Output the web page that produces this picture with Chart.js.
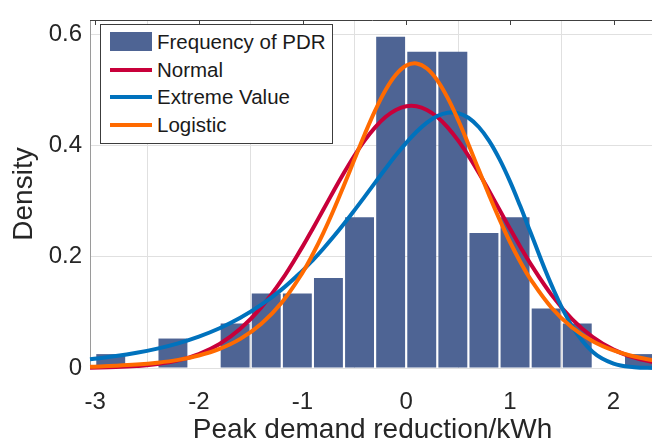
<!DOCTYPE html>
<html>
<head>
<meta charset="utf-8">
<script src="https://cdn.jsdelivr.net/npm/chart.js@4.4.1/dist/chart.umd.min.js"></script>
<style>
  html, body { margin: 0; padding: 0; background: #fff; overflow: hidden; }
  #wrap { position: relative; width: 652px; height: 445px; overflow: hidden; }
  #pdrChart { position: absolute; left: 0; top: 0; }
  #legend {
    position: absolute; left: 100px; top: 24px; width: 231px; height: 115px;
    border: 1px solid #3c3c3c; background: #fff; box-sizing: content-box;
    padding-top: 3px; font-family: "Liberation Sans", Arial, sans-serif;
    font-size: 20.5px; color: #1a1a1a;
  }
  .row { display: flex; align-items: center; height: 27.8px; padding-left: 9px; }
  .sw { width: 42px; margin-right: 5px; }
</style>
</head>
<body>
<div id="wrap">
  <canvas id="pdrChart" width="660" height="445"></canvas>
  <div id="legend"></div>
</div>
<script>
const ctx = document.getElementById('pdrChart');

// histogram: bin centres (width 0.3) and density
const binCenters = [-2.85, -2.55, -2.25, -1.95, -1.65, -1.35, -1.05, -0.75, -0.45,
                    -0.15, 0.15, 0.45, 0.75, 1.05, 1.35, 1.65, 1.95, 2.25];
const binDensity = [0.025, 0, 0.053, 0, 0.08, 0.134, 0.134, 0.162, 0.271,
                    0.596, 0.569, 0.569, 0.243, 0.271, 0.107, 0.08, 0, 0.025];

// fitted curves
const curveX = [-3.05, -2.8, -2.6, -2.4, -2.2, -2.0, -1.8, -1.6, -1.4, -1.2,
                -1.0, -0.9, -0.8, -0.7, -0.6, -0.5, -0.4, -0.3, -0.2, -0.1,
                0, 0.1, 0.2, 0.3, 0.4, 0.5, 0.6, 0.7, 0.8, 0.9, 1.0, 1.1,
                1.2, 1.4, 1.6, 1.8, 2.0, 2.2, 2.4];
const normalPdf = [0.0006, 0.0016, 0.0035, 0.0071, 0.0137, 0.025, 0.0432, 0.0704, 0.1086, 0.1583,
                   0.2183, 0.251, 0.2847, 0.3183, 0.3511, 0.3818, 0.4094, 0.4329, 0.4515, 0.4642,
                   0.4708, 0.4708, 0.4642, 0.4515, 0.4329, 0.4094, 0.3818, 0.3511, 0.3183, 0.2847,
                   0.251, 0.2183, 0.1872, 0.132, 0.088, 0.0555, 0.0331, 0.0187, 0.01];
const extremePdf = [0.0157, 0.0214, 0.0273, 0.0349, 0.0444, 0.0565, 0.0715, 0.0903, 0.1134, 0.1415,
                    0.1752, 0.1941, 0.2146, 0.2364, 0.2594, 0.2835, 0.3083, 0.3334, 0.3584, 0.3825,
                    0.405, 0.425, 0.4415, 0.4533, 0.4593, 0.4585, 0.4501, 0.4335, 0.4086, 0.3757,
                    0.3361, 0.2912, 0.2436, 0.15, 0.075, 0.0287, 0.0078, 0.0014, 0.0001];
const logisticPdf = [0.0023, 0.004, 0.0061, 0.0095, 0.0146, 0.0224, 0.0344, 0.0524, 0.0791, 0.1178,
                     0.1716, 0.205, 0.2427, 0.2843, 0.3289, 0.3749, 0.4205, 0.463, 0.4996, 0.5274,
                     0.544, 0.5479, 0.5388, 0.5175, 0.4859, 0.4466, 0.4025, 0.3564, 0.3108, 0.2673,
                     0.2271, 0.1912, 0.1595, 0.1089, 0.0729, 0.0482, 0.0316, 0.0206, 0.0134];

const xTicks = [-3, -2, -1, 0, 1, 2];
const yTicks = [0, 0.2, 0.4, 0.6];

const barColor = '#4e6494';
const lineColors = { 'Normal': '#c8003a', 'Extreme Value': '#0072bd', 'Logistic': '#ff6a00' };
const textColor = '#262626';
const fontName = '"Liberation Sans", Arial, sans-serif';

const toPoints = ys => curveX.map((x, i) => ({x: x, y: ys[i]}));
const curve = (label, ys, order) => ({
  type: 'line',
  label: label,
  data: toPoints(ys),
  borderColor: lineColors[label],
  backgroundColor: lineColors[label],
  borderWidth: 4,
  pointRadius: 0,
  tension: 0.4,
  fill: false,
  clip: false,
  order: order
});

// top frame line with inward ticks, like the original box
const frameTop = {
  id: 'frameTop',
  afterDraw(chart) {
    const {ctx, chartArea: a, scales: {x}} = chart;
    ctx.save();
    ctx.strokeStyle = '#404040';
    ctx.lineWidth = 1;
    ctx.beginPath();
    ctx.moveTo(a.left, a.top + 0.5);
    ctx.lineTo(a.right, a.top + 0.5);
    xTicks.forEach(v => {
      const px = Math.round(x.getPixelForValue(v)) + 0.5;
      ctx.moveTo(px, a.top);
      ctx.lineTo(px, a.top + 5);
    });
    ctx.stroke();
    ctx.restore();
  }
};

const chart = new Chart(ctx, {
  type: 'bar',
  data: {
    datasets: [
      {
        label: 'Frequency of PDR',
        data: binCenters.map((c, i) => ({x: c, y: binDensity[i]})),
        backgroundColor: barColor,
        borderWidth: 0,
        barPercentage: 1,
        categoryPercentage: 0.93,
        order: 4
      },
      curve('Normal', normalPdf, 3),
      curve('Extreme Value', extremePdf, 2),
      curve('Logistic', logisticPdf, 1)
    ]
  },
  options: {
    responsive: false,
    animation: false,
    devicePixelRatio: 1,
    layout: { padding: { left: 0, top: 10, right: 5, bottom: 0 } },
    plugins: { legend: { display: false }, tooltip: { enabled: false } },
    scales: {
      x: {
        type: 'linear',
        min: -3.05,
        max: 2.4,
        offset: false,
        afterFit: s => { s.height = 77; },
        afterBuildTicks: s => { s.ticks = xTicks.map(v => ({value: v})); },
        grid: { color: '#e0e0e0', drawTicks: false },
        border: { color: '#e0e0e0' },
        ticks: {
          padding: 22,
          color: textColor,
          font: { family: fontName, size: 24, lineHeight: 1 },
          callback: v => String(v)
        },
        title: {
          display: true,
          text: 'Peak demand reduction/kWh',
          color: textColor,
          font: { family: fontName, size: 28, lineHeight: 1 },
          padding: { top: 0, bottom: 1 }
        }
      },
      y: {
        min: 0,
        max: 0.626,
        afterFit: s => { s.width = 90; },
        afterBuildTicks: s => { s.ticks = yTicks.map(v => ({value: v})); },
        grid: { color: '#e0e0e0', drawTicks: false },
        border: { color: '#9a9a9a' },
        ticks: {
          padding: 8,
          color: textColor,
          font: { family: fontName, size: 24, lineHeight: 1 },
          callback: v => String(v)
        },
        title: {
          display: true,
          text: 'Density',
          color: textColor,
          font: { family: fontName, size: 28, lineHeight: 1 },
          padding: { top: 10, bottom: 0 }
        }
      }
    }
  },
  plugins: [frameTop]
});

// legend in the upper left corner, built from the datasets
const legendBox = document.getElementById('legend');
chart.data.datasets.forEach(ds => {
  const row = document.createElement('div');
  row.className = 'row';
  const sw = document.createElement('span');
  sw.className = 'sw';
  if (ds.type === 'line') {
    sw.style.height = '4px';
    sw.style.background = ds.borderColor;
  } else {
    sw.style.height = '19px';
    sw.style.background = ds.backgroundColor;
  }
  const txt = document.createElement('span');
  txt.textContent = ds.label;
  row.appendChild(sw);
  row.appendChild(txt);
  legendBox.appendChild(row);
});
</script>
</body>
</html>
